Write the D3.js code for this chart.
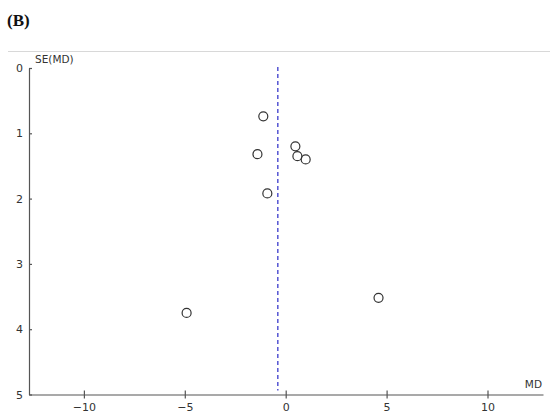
<!DOCTYPE html>
<html>
<head>
<meta charset="utf-8">
<script src="https://cdn.jsdelivr.net/npm/d3@7"></script>
<style>
  body { margin: 0; background: #fff; }
  svg { display: block; }
  .tick text { font-family: "DejaVu Sans", Verdana, sans-serif; font-size: 11px; fill: #333; }
</style>
</head>
<body>
<div id="chart"></div>
<script>
// study estimates: mean difference and its standard error
var md = [-1.11, -1.40, 0.48, 0.58, 0.99, -0.91, -4.91, 4.60];
var se = [0.74, 1.32, 1.20, 1.35, 1.40, 1.92, 3.75, 3.52];
var pooledMD = -0.39;
var xTicks = [-10, -5, 0, 5, 10];
var yTicks = [0, 1, 2, 3, 4, 5];

var width = 550, height = 416;

var svg = d3.select("#chart").append("svg")
    .attr("width", width)
    .attr("height", height);

// panel label and separator line
svg.append("text")
    .attr("x", 7).attr("y", 26)
    .attr("font-family", "'Liberation Serif', 'DejaVu Serif', serif")
    .attr("font-weight", "bold")
    .attr("font-size", 17)
    .attr("fill", "#111")
    .text("(B)");

svg.append("line")
    .attr("x1", 8).attr("x2", 550)
    .attr("y1", 51.5).attr("y2", 51.5)
    .attr("stroke", "#d8d8d8")
    .attr("stroke-width", 1);

var x = d3.scaleLinear().domain([-12.72, 12.75]).range([29, 543]);
var y = d3.scaleLinear().domain([0, 5]).range([68, 394.5]);

// axes - ticks cross the axis line
var xAxis = svg.append("g")
    .attr("transform", "translate(0," + y(5) + ")")
    .call(d3.axisBottom(x).tickValues(xTicks).tickSize(4).tickSizeOuter(0)
        .tickFormat(function(d) { return d < 0 ? "\u2212" + Math.abs(d) : d; }));
xAxis.selectAll(".tick line").attr("y1", -4);
xAxis.selectAll(".tick text").attr("dy", "0.9em");

var yAxis = svg.append("g")
    .attr("transform", "translate(" + x.range()[0] + ",0)")
    .call(d3.axisLeft(y).tickValues(yTicks).tickSize(3).tickSizeOuter(0)
        .tickFormat(d3.format("d")));
yAxis.selectAll(".tick line").attr("x2", 3);
yAxis.selectAll(".tick text").attr("x", -6);

svg.selectAll(".domain, .tick line")
    .attr("stroke", "#555")
    .attr("stroke-width", 1.2);

// axis titles
svg.append("text")
    .attr("x", 35).attr("y", 63)
    .attr("font-family", "'DejaVu Sans', sans-serif")
    .attr("font-size", 10.5)
    .attr("fill", "#333")
    .text("SE(MD)");

svg.append("text")
    .attr("x", 542).attr("y", 388)
    .attr("text-anchor", "end")
    .attr("font-family", "'DejaVu Sans', sans-serif")
    .attr("font-size", 10.5)
    .attr("fill", "#333")
    .text("MD");

// pooled estimate line
svg.append("line")
    .attr("x1", x(pooledMD)).attr("x2", x(pooledMD))
    .attr("y1", y(0) - 1).attr("y2", y(5) - 4)
    .attr("stroke", "#3a3acc")
    .attr("stroke-width", 1.3)
    .attr("stroke-dasharray", "4,3");

// study points
var pts = md.map(function(d, i) { return { md: d, se: se[i] }; });

svg.append("g")
    .selectAll("circle")
    .data(pts)
    .enter()
    .append("circle")
    .attr("cx", function(d) { return x(d.md); })
    .attr("cy", function(d) { return y(d.se); })
    .attr("r", 4.5)
    .attr("fill", "none")
    .attr("stroke", "#333")
    .attr("stroke-width", 1.2);
</script>
</body>
</html>
